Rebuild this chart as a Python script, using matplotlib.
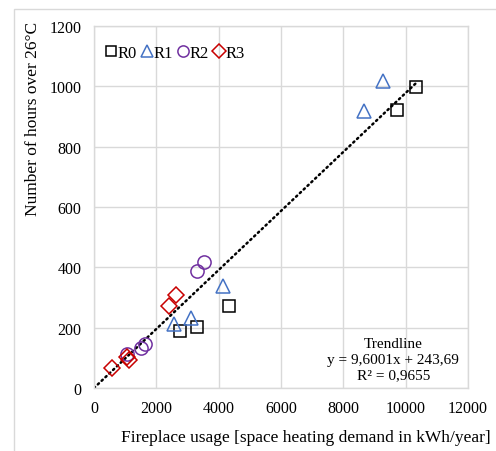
import numpy as np
import matplotlib
matplotlib.use("Agg")
import matplotlib.pyplot as plt
from matplotlib.patches import Rectangle

plt.rcParams['font.family'] = ['Liberation Serif', 'DejaVu Serif']

# data
r0_x = [2760, 3290, 4320, 9710, 10330]
r0_y = [188, 201, 271, 922, 999]
r1_x = [2570, 3120, 4130, 8670, 9280]
r1_y = [212, 231, 337, 919, 1019]
r2_x = [1070, 1500, 1650, 3310, 3530]
r2_y = [113, 133, 145, 388, 417]
r3_x = [590, 1050, 1130, 2420, 2630]
r3_y = [66, 102, 93, 271, 308]

series = ['R0', 'R1', 'R2', 'R3']
markers = ['s', '^', 'o', 'D']
colors = ['black', '#4472C4', '#7030A0', '#C80000']
msizes = [8, 10, 9.5, 8.5]
xticks = [0, 2000, 4000, 6000, 8000, 10000, 12000]
yticks = [0, 200, 400, 600, 800, 1000, 1200]
trend_text = "Trendline\ny = 9,6001x + 243,69\nR² = 0,9655"

fig = plt.figure(figsize=(4.96, 4.52), dpi=100)
fig.patches.append(Rectangle((14/496, -0.1), 1.2, 1 - 10/452 + 0.1, transform=fig.transFigure,
                             fill=False, edgecolor='#d9d9d9', linewidth=1))
ax = fig.add_axes([94/496, 1 - 389/452, 374/496, 362/452])

xs = [r0_x, r1_x, r2_x, r3_x]
ys = [r0_y, r1_y, r2_y, r3_y]
for x, y, m, c, s, name in zip(xs, ys, markers, colors, msizes, series):
    ax.plot(x, y, linestyle='none', marker=m, markersize=s, markerfacecolor='none',
            markeredgecolor=c, markeredgewidth=1.1, label=name, zorder=3)

# trend line through origin
allx = np.concatenate([np.array(v, float) for v in xs])
ally = np.concatenate([np.array(v, float) for v in ys])
k = (allx * ally).sum() / (allx ** 2).sum()
tx = np.array([0, allx.max()])
ax.plot(tx, k * tx, color='black', linewidth=1.8, linestyle=(0, (0.6, 1.5)),
        dash_capstyle='round', zorder=2)

ax.set_xlim(0, 12000)
ax.set_ylim(0, 1200)
ax.set_xticks(xticks)
ax.set_yticks(yticks)
ax.grid(True, color='#d9d9d9', linewidth=1)
ax.set_axisbelow(True)
for sp in ax.spines.values():
    sp.set_color('#d9d9d9')
    sp.set_linewidth(1)
ax.tick_params(length=0, labelsize=11.5, pad=9)
ax.tick_params(axis='x', pad=9)

ax.text(9600, 96, trend_text, ha='center', va='center', fontsize=11, linespacing=1.3)

leg = ax.legend(loc='upper left', bbox_to_anchor=(0.0, 0.98), ncol=4, frameon=False,
                handlelength=0.6, handletextpad=0.1, columnspacing=0.3, fontsize=12,
                borderaxespad=0.3, markerscale=0.85)

fig.text(306/496, 1 - 438/452, "Fireplace usage [space heating demand in kWh/year]",
         ha='center', va='center', fontsize=12.5)
fig.text(33/496, 1 - 119/452, "Number of hours over 26°C", ha='center', va='center',
         rotation=90, fontsize=12.5)

fig.savefig('out.png', dpi=100)
